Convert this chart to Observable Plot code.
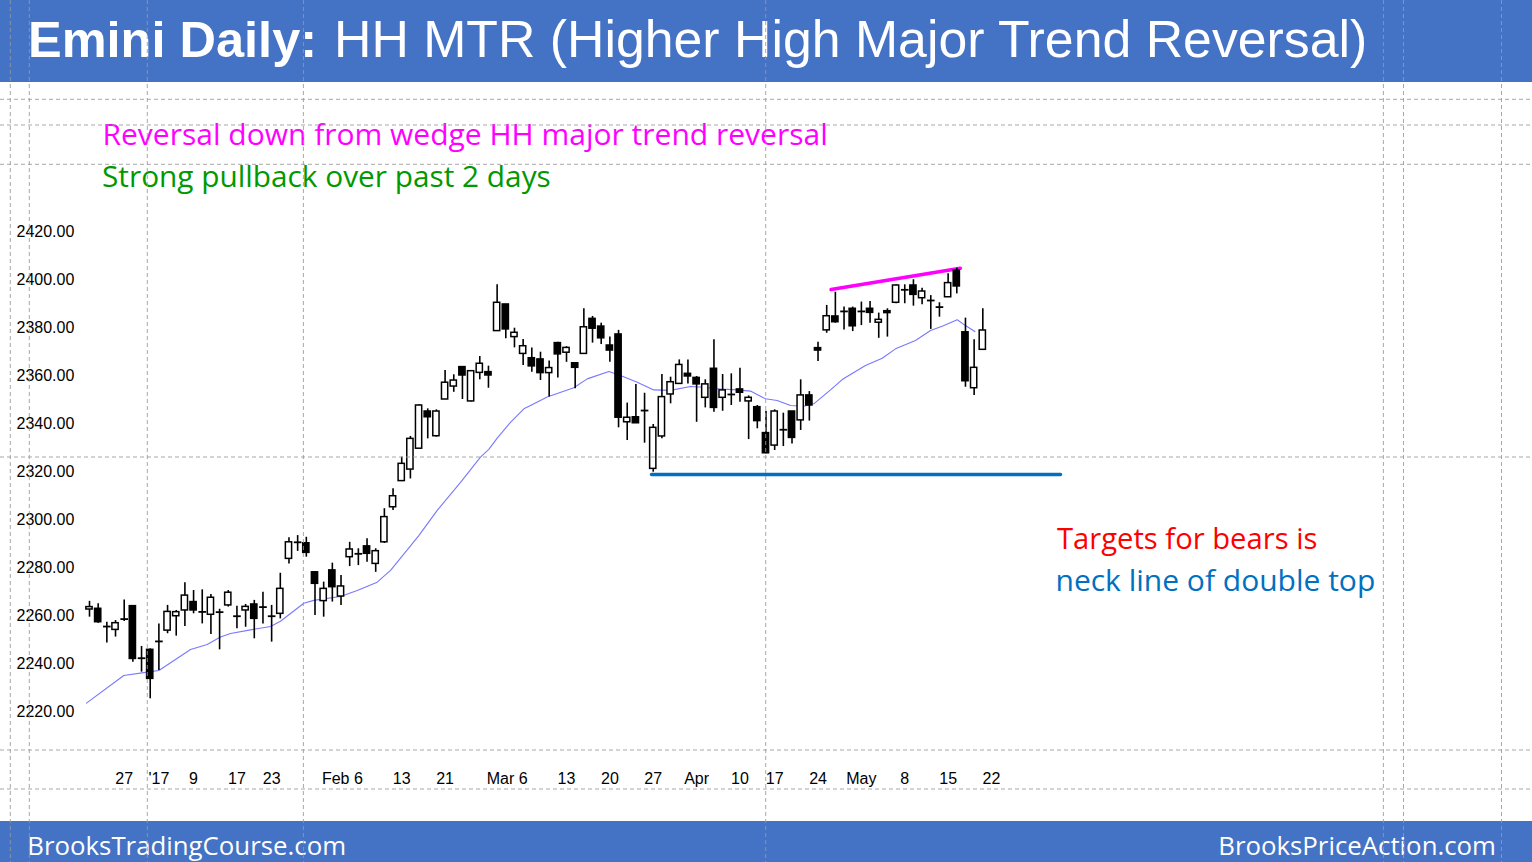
<!DOCTYPE html>
<html><head><meta charset="utf-8">
<script src="https://cdn.jsdelivr.net/npm/d3@7"></script>
<script src="https://cdn.jsdelivr.net/npm/@observablehq/plot@0.6"></script>
<style>
body{margin:0;background:#fff;}
#page{position:relative;width:1532px;height:862px;overflow:hidden;background:#fff;}
#bg,#chart,#guides{position:absolute;left:0;}
#bg{top:0}
#chart{top:82px}
#guides{top:0;pointer-events:none}
</style></head>
<body><div id="page"><svg id="bg" width="1532" height="862"></svg><div id="chart"></div><svg id="guides" width="1532" height="862"></svg></div>
<script>
// Trading days (Emini daily, Dec 20 2016 – May 19 2017)
const dates = [
 "2016-12-20","2016-12-21","2016-12-22","2016-12-23","2016-12-27","2016-12-28","2016-12-29","2016-12-30",
 "2017-01-03","2017-01-04","2017-01-05","2017-01-06","2017-01-09","2017-01-10","2017-01-11","2017-01-12","2017-01-13",
 "2017-01-17","2017-01-18","2017-01-19","2017-01-20","2017-01-23","2017-01-24","2017-01-25","2017-01-26","2017-01-27","2017-01-30","2017-01-31",
 "2017-02-01","2017-02-02","2017-02-03","2017-02-06","2017-02-07","2017-02-08","2017-02-09","2017-02-10","2017-02-13","2017-02-14","2017-02-15","2017-02-16","2017-02-17",
 "2017-02-21","2017-02-22","2017-02-23","2017-02-24","2017-02-27","2017-02-28",
 "2017-03-01","2017-03-02","2017-03-03","2017-03-06","2017-03-07","2017-03-08","2017-03-09","2017-03-10","2017-03-13","2017-03-14","2017-03-15","2017-03-16","2017-03-17",
 "2017-03-20","2017-03-21","2017-03-22","2017-03-23","2017-03-24","2017-03-27","2017-03-28","2017-03-29","2017-03-30","2017-03-31",
 "2017-04-03","2017-04-04","2017-04-05","2017-04-06","2017-04-07","2017-04-10","2017-04-11","2017-04-12","2017-04-13",
 "2017-04-17","2017-04-18","2017-04-19","2017-04-20","2017-04-21","2017-04-24","2017-04-25","2017-04-26","2017-04-27","2017-04-28",
 "2017-05-01","2017-05-02","2017-05-03","2017-05-04","2017-05-05","2017-05-08","2017-05-09","2017-05-10","2017-05-11","2017-05-12",
 "2017-05-15","2017-05-16","2017-05-17","2017-05-18","2017-05-19"];
const opens = [2262.5,2262.8,2255.4,2254,2258.5,2263.9,2242.2,2245.7,2249.2,2253.7,
 2259.7,2262.1,2265.6,2261.5,2260.3,2261.4,2264.2,2259.7,2262.1,2264.6,
 2263.5,2259.7,2260.7,2283.6,2290.5,2290.1,2278,2266,2278.8,2267.9,
 2284.3,2285.7,2288.8,2281.5,2290.5,2305.1,2316,2320.8,2329.5,2345,
 2334.7,2350,2355.4,2363.5,2349.2,2361.1,2361.4,2378.5,2389.6,2376,
 2369,2367.2,2366.7,2361,2373.5,2369.5,2365.1,2369,2383.6,2380.4,
 2372.5,2377.1,2340.5,2342.6,2345.4,2321.1,2334.6,2352.1,2356.5,2360.7,
 2359,2350.7,2362.8,2350.7,2352.1,2354.2,2349.2,2346.8,2336,2330.8,
 2337.4,2345,2341.3,2351.7,2371.4,2378.8,2384.6,2386.7,2387.8,2386.7,
 2387.8,2382,2386.8,2390.3,2395.7,2397.5,2392.2,2391.25,2388.5,2392.6,
 2403.75,2378,2354.7,2370.7];
const highs = [2265.9,2264.9,2257.2,2257.9,2266.5,2264.2,2247.1,2246.1,2256.5,2264.2,
 2262.1,2273.6,2270.4,2270.7,2268.8,2262.6,2270.4,2263.9,2264.6,2266.3,
 2269.7,2264.2,2277.6,2292.4,2293.3,2292.6,2278.2,2273.9,2281.8,2276.7,
 2290.5,2287.8,2292,2287.8,2304.5,2312.8,2326,2334.6,2347.8,2346.1,
 2345.7,2362.1,2360.3,2363.5,2361.8,2367.9,2363.9,2397.8,2389.6,2379.7,
 2375,2371.5,2369.7,2366,2373.9,2372,2365.1,2387.8,2384.6,2381.8,
 2376,2378.8,2348.5,2356.3,2352.6,2339.6,2360.4,2359.3,2366.5,2366.5,
 2359.6,2358.2,2374.9,2360.4,2360.7,2363,2351.5,2347.5,2345.1,2345.7,
 2344.3,2345,2358.2,2353.3,2373.9,2389.2,2394.7,2388.5,2388.5,2390.6,
 2390.8,2386,2387.8,2397.8,2397.8,2399.9,2396.4,2393.3,2390.3,2402.4,
 2404.7,2383.9,2374.9,2387.8];
const lows = [2259.3,2256.8,2248.5,2251,2257.5,2240.5,2236.4,2225.3,2237.1,2252.4,
 2251.4,2255.4,2260.7,2256.5,2252.1,2245.7,2263.5,2254.5,2255.1,2250.3,
 2256.5,2248.9,2258.6,2281.5,2286.7,2284.3,2260,2259.3,2265.6,2264.2,
 2280.4,2280.8,2282.2,2278,2290,2303.8,2315.8,2316.9,2329.5,2333.6,
 2334.3,2350,2353,2350,2349,2358.2,2354.7,2378.5,2375.3,2371.5,
 2364.2,2361.4,2357.9,2351,2359,2365.5,2354.5,2369,2373.5,2372.9,
 2365.5,2338.2,2332.9,2340.1,2331.8,2319.7,2333.6,2348.2,2356.3,2356.5,
 2340.5,2346.5,2344.7,2345.1,2347.5,2348.9,2333.3,2337.8,2327.4,2328.75,
 2330.4,2331.5,2337.1,2341,2365.8,2377.6,2381.8,2379,2378.3,2380.8,
 2381.8,2375.5,2376,2389.9,2389.9,2388.9,2389.5,2379.2,2384.3,2392.6,
 2394,2355.1,2351.7,2370.4];
const closes = [2263.5,2257.2,2255.4,2256.8,2258.5,2241.9,2242.2,2233.6,2249.2,2261.5,
 2261.4,2268.3,2262.1,2261.5,2267.4,2261.4,2269.5,2259.7,2263.6,2258.6,
 2263.5,2259.7,2271.1,2290.5,2290.5,2286.1,2273.2,2271.1,2271.8,2272.1,
 2287.5,2285.7,2285.7,2286.8,2301,2309.7,2323.2,2333.6,2347.5,2342.6,
 2345,2357,2357.9,2360,2361.8,2364.9,2360,2390.3,2379.2,2377.8,
 2372.2,2363.8,2361,2363.1,2368.8,2371.5,2363.2,2380.1,2379.5,2375.5,
 2370.4,2342.4,2342.4,2340.1,2345.4,2338.2,2351,2357.2,2364.4,2359.6,
 2356.3,2356.3,2346.5,2353.8,2352.1,2352.8,2350.7,2341,2327.6,2345,
 2337.4,2334,2351.7,2347.5,2370.4,2384.7,2382.2,2386.7,2380.5,2386.7,
 2386.1,2383.2,2386,2397.5,2395.7,2393.6,2395,2391.25,2388.5,2398.5,
 2397.1,2357.6,2363.2,2378.75];

// 20-bar moving average (bar index, value)
const maIndex = [-0.35,3.95,6.65,8,11.65,13.57,15.1,16.26,18.56,20.87,22.02,24.71,25.86,28.94,30.87,33.17,34.71,37.97,40.09,42.78,45.08,46.04,47.01,48.54,50.08,50.85,52.77,55.84,57.39,59.88,61.22,63.15,65.06,66.99,69.29,70.83,72.75,74.68,76.21,77.94,79.29,80.83,82.36,83.51,85.44,86.79,89.47,91.4,92.93,95.24,96.97,98.32,100.05,101,102.08];
const maValue = [2223.5,2235,2236.4,2237.1,2245.8,2247.9,2251,2252.5,2254,2255.4,2257.6,2265.1,2266.3,2267.9,2270.4,2273.9,2278.8,2293.3,2303.8,2315.5,2326,2329.2,2333.9,2340.5,2346.1,2347.5,2351,2354.9,2358.6,2361.7,2360,2357.2,2354,2353.8,2355.4,2355.1,2354.4,2354,2353.5,2350.3,2349.6,2347.5,2347.2,2348.2,2354,2358.3,2364.2,2367.2,2371.1,2374.6,2378.75,2380.5,2383.2,2380.8,2378.3];

// Drawn lines: wedge top (magenta) and double-top neck line (blue)
const wedgeIndex = [85.5, 100.4];
const wedgeValue = [2395.8, 2404.7];
const neckIndex = [64.8, 111.96];
const neckValue = [2318.75, 2318.75];

// Axes
const yTicks = [2220, 2240, 2260, 2280, 2300, 2320, 2340, 2360, 2380, 2400, 2420];
const xTickIndex = [4, 8, 12, 17, 21, 31, 36, 41, 50, 55, 60, 65, 70, 75, 79, 84, 89, 94, 99, 104];
const xTickText = ["27","'17","9","17","23","Feb 6","13","21","Mar 6","13","20","27","Apr","10","17","24","May","8","15","22"];

// Text
const titleBold = "Emini Daily:";
const titleRest = "HH MTR (Higher High Major Trend Reversal)";
const note1 = "Reversal down from wedge HH major trend reversal";
const note2 = "Strong pullback over past 2 days";
const note3 = "Targets for bears is";
const note4 = "neck line of double top";
const footLeft = "BrooksTradingCourse.com";
const footRight = "BrooksPriceAction.com";

const candles = dates.map((d, i) => ({i, date: d, open: opens[i], high: highs[i], low: lows[i], close: closes[i]}));
const bodies = candles.filter(d => d.open !== d.close);
const dojis = candles.filter(d => d.open === d.close);
const ma = maIndex.map((x, k) => ({x, v: maValue[k]}));
const wedge = wedgeIndex.map((x, k) => ({x, v: wedgeValue[k]}));
const neck = neckIndex.map((x, k) => ({x, v: neckValue[k]}));
const xTicks = xTickIndex.map((i, k) => ({i, text: xTickText[k]}));

const ANNOT = "'Open Sans', 'Noto Sans', sans-serif";
const ARIAL = "'Liberation Sans', Arial, sans-serif";
const note = (t, dx, dy, fill, size) => Plot.text([t], {text: d => d, frameAnchor: "top-left", dx, dy, textAnchor: "start", lineAnchor: "bottom", fill, fontSize: size, fontFamily: ANNOT});

const chart = Plot.plot({
  width: 1532, height: 740,
  marginTop: 0, marginRight: 0, marginBottom: 0, marginLeft: 0,
  style: {background: "transparent", overflow: "visible"},
  x: {domain: [-10.262, 166.38], axis: null},
  y: {domain: [2173.75, 2482.083], axis: null},
  marks: [
    Plot.text(yTicks, {y: d => d, text: d => d3.format(".2f")(d), frameAnchor: "left", textAnchor: "start", dx: 16, fontSize: 16, fontFamily: ARIAL, fill: "#000"}),
    Plot.text(xTicks.filter(t => !t.text.includes(" ")), {x: "i", text: "text", frameAnchor: "top", dy: 696, lineAnchor: "middle", textAnchor: "middle", fontSize: 16, fontFamily: ARIAL, fill: "#000"}),
    Plot.text(xTicks.filter(t => t.text.includes(" ")), {x: "i", text: "text", frameAnchor: "top", dy: 696, dx: 4.5, lineAnchor: "middle", textAnchor: "end", fontSize: 16, fontFamily: ARIAL, fill: "#000"}),
    Plot.line(ma, {x: "x", y: "v", stroke: "#7878ff", strokeWidth: 1.1}),
    Plot.line(neck, {x: "x", y: "v", stroke: "#0070C0", strokeWidth: 3.4}),
    Plot.line(wedge, {x: "x", y: "v", stroke: "#ff00ff", strokeWidth: 3.6}),
    Plot.ruleX(candles, {x: "i", y1: "low", y2: "high", stroke: "#000", strokeWidth: 1.6}),
    Plot.rect(bodies, {x1: d => d.i - 0.36, x2: d => d.i + 0.36, y1: "open", y2: "close", fill: d => d.close > d.open ? "#fff" : "#000", stroke: "#000", strokeWidth: 1.5}),
    Plot.link(dojis, {x1: d => d.i - 0.44, x2: d => d.i + 0.44, y1: "close", y2: "close", stroke: "#000", strokeWidth: 1.8}),
    note(note1, 102, 62.3, "#ff00ff", 30),
    note(note2, 101.5, 104, "#009900", 29.8),
    note(note3, 1056.5, 466.3, "#ff0000", 29.2),
    note(note4, 1055, 508, "#0070C0", 30)
  ]
});
document.getElementById("chart").appendChild(chart);

// Banners
const bg = d3.select("#bg");
bg.append("rect").attr("x", 0).attr("y", 0).attr("width", 1532).attr("height", 82).attr("fill", "#4472C4");
bg.append("rect").attr("x", 0).attr("y", 821).attr("width", 1532).attr("height", 41).attr("fill", "#4472C4");
bg.append("text").attr("x", 28).attr("y", 56.7).attr("fill", "#fff").attr("font-family", ARIAL).attr("font-size", 50.5).attr("font-weight", "bold").text(titleBold);
bg.append("text").attr("x", 334).attr("y", 56.7).attr("fill", "#fff").attr("font-family", ARIAL).attr("font-size", 51.8).text(titleRest);
bg.append("text").attr("x", 27.3).attr("y", 854.5).attr("fill", "#fff").attr("font-family", ANNOT).attr("font-size", 25.8).text(footLeft);
bg.append("text").attr("x", 1496).attr("y", 854.5).attr("text-anchor", "end").attr("fill", "#fff").attr("font-family", ANNOT).attr("font-size", 25.8).text(footRight);

// Slide guide lines (dashed) drawn over everything
const g = d3.select("#guides");
const hGuides = [99.3, 125, 164.3, 457, 750, 789];
const vGuides = [10.3, 29.3, 147.3, 303.4, 765.7, 1383.4, 1403.5, 1501.5];
hGuides.forEach(y => g.append("line").attr("x1", 0).attr("x2", 1532).attr("y1", y).attr("y2", y));
vGuides.forEach(x => g.append("line").attr("x1", x).attr("x2", x).attr("y1", 0).attr("y2", 862));
g.selectAll("line").attr("stroke", "#9a9a9a").attr("stroke-width", 1).attr("stroke-dasharray", "4,3").attr("opacity", 0.85);
</script></body></html>
